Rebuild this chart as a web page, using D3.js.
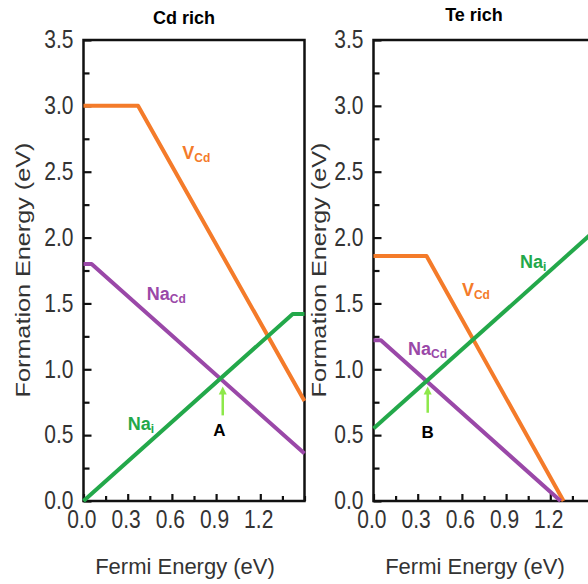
<!DOCTYPE html>
<html><head><meta charset="utf-8">
<script src="https://cdn.jsdelivr.net/npm/d3@7"></script>
<style>
body{margin:0;background:#fff;}
svg text{font-family:"Liberation Sans",Arial,sans-serif;}
.stretch{transform-box:fill-box;transform-origin:center;transform:scaleY(1.2);}
</style>
</head><body>
<svg id="c" width="588" height="584"></svg>
<script>
// ---- data ----
const panelTitles = ["Cd rich", "Te rich"];
const fermiTicks = [0, 0.3, 0.6, 0.9, 1.2];
const fermiMinor = [0.15, 0.45, 0.75, 1.05, 1.35, 1.5];
const energyTicks = [0, 0.5, 1.0, 1.5, 2.0, 2.5, 3.0, 3.5];
const energyMinor = [0.25, 0.75, 1.25, 1.75, 2.25, 2.75, 3.25];
// Cd rich
const cdRich_VCd  = [[0, 3.0], [0.37, 3.0], [1.5, 0.76]];
const cdRich_NaCd = [[0, 1.8], [0.055, 1.8], [1.5, 0.36]];
const cdRich_Nai  = [[0, 0.0], [1.42, 1.42], [1.5, 1.42]];
// Te rich
const teRich_VCd  = [[0, 1.86], [0.36, 1.86], [1.29, 0.0]];
const teRich_NaCd = [[0, 1.22], [0.05, 1.22], [1.27, 0.0]];
const teRich_Nai  = [[0, 0.55], [1.5, 2.05]];
// crossing markers (Fermi level, arrow bottom, arrow tip)
const crossA = [0.945, 0.65, 0.87];
const crossB = [0.368, 0.67, 0.87];

const colors = {VCd: "#f47b2a", NaCd: "#9a48a8", Nai: "#23a84a", arrow: "#8de84a"};

const svg = d3.select("#c");
const yTop = 40, yBot = 501;
const y = d3.scaleLinear().domain([0, 3.5]).range([yBot, yTop]);

function panel(x0, title, series, labels, cross, crossLabel, titleY) {
  const x = d3.scaleLinear().domain([0, 1.5]).range([x0, x0 + 221]);
  const g = svg.append("g");
  // axes
  const xa = g.append("g").attr("transform", `translate(0,${yBot})`)
    .call(d3.axisBottom(x).tickValues(fermiTicks).tickFormat(d3.format(".1f")).tickSize(-7).tickPadding(11));
  const xm = g.append("g").attr("transform", `translate(0,${yBot})`)
    .call(d3.axisBottom(x).tickValues(fermiMinor).tickFormat("").tickSize(-5));
  const ya = g.append("g").attr("transform", `translate(${x0},0)`)
    .call(d3.axisLeft(y).tickValues(energyTicks).tickFormat(d3.format(".1f")).tickSize(-8).tickPadding(10));
  const ym = g.append("g").attr("transform", `translate(${x0},0)`)
    .call(d3.axisLeft(y).tickValues(energyMinor).tickFormat("").tickSize(-6));
  [xa, xm, ya, ym].forEach(a => {
    a.select(".domain").remove();
    a.selectAll("line").attr("stroke", "#111").attr("stroke-width", 2.2);
    a.selectAll("text").attr("fill", "#333").attr("font-size", 21).attr("class", "stretch");
  });
  xa.selectAll("text").attr("dx", "-0.1em");
  ya.selectAll("text").attr("dy", "0.3em");
  // frame
  g.append("rect").attr("x", x(0)).attr("y", y(3.5))
    .attr("width", x(1.5) - x(0)).attr("height", y(0) - y(3.5))
    .attr("fill", "none").attr("stroke", "#111").attr("stroke-width", 2.5);
  // lines
  const line = d3.line().x(d => x(d[0])).y(d => y(d[1]));
  series.forEach(s => {
    g.append("path").attr("d", line(s.data)).attr("fill", "none")
      .attr("stroke", colors[s.key]).attr("stroke-width", 4).attr("stroke-linejoin", "round");
  });
  // labels
  labels.forEach(l => {
    const t = g.append("text").attr("x", x(l.at[0])).attr("y", y(l.at[1]))
      .attr("fill", colors[l.key]).attr("font-weight", "bold").attr("font-size", 18);
    t.append("tspan").text(l.main);
    t.append("tspan").attr("font-size", 12).attr("dy", 3).text(l.sub);
  });
  // arrow
  const ax = x(cross[0]), ab = y(cross[1]), at = y(cross[2]);
  g.append("line").attr("x1", ax).attr("x2", ax).attr("y1", ab).attr("y2", at + 6)
    .attr("stroke", colors.arrow).attr("stroke-width", 2.5);
  g.append("path").attr("d", `M${ax},${at} L${ax - 4},${at + 8} L${ax + 4},${at + 8} Z`).attr("fill", colors.arrow);
  g.append("text").attr("x", x(crossLabel.at[0])).attr("y", y(crossLabel.at[1]))
    .attr("text-anchor", "middle").attr("font-weight", "bold").attr("font-size", 17).attr("fill", "#000").text(crossLabel.text);
  // titles
  const cx = (x(0) + x(1.5)) / 2;
  g.append("text").attr("x", cx - 10).attr("y", titleY).attr("text-anchor", "middle")
    .attr("font-weight", "bold").attr("font-size", 18).attr("fill", "#000").text(title);
  g.append("text").attr("x", cx - 9).attr("y", 574).attr("text-anchor", "middle")
    .attr("font-size", 22).attr("fill", "#333").text("Fermi Energy (eV)");
  return x;
}

panel(83.5, panelTitles[0],
  [{key: "VCd", data: cdRich_VCd}, {key: "NaCd", data: cdRich_NaCd}, {key: "Nai", data: cdRich_Nai}],
  [{key: "VCd", main: "V", sub: "Cd", at: [0.67, 2.60]},
   {key: "NaCd", main: "Na", sub: "Cd", at: [0.43, 1.525]},
   {key: "Nai", main: "Na", sub: "i", at: [0.30, 0.54]}],
  crossA, {text: "A", at: [0.923, 0.49]}, 24);

panel(373.5, panelTitles[1],
  [{key: "VCd", data: teRich_VCd}, {key: "NaCd", data: teRich_NaCd}, {key: "Nai", data: teRich_Nai}],
  [{key: "Nai", main: "Na", sub: "i", at: [0.995, 1.77]},
   {key: "VCd", main: "V", sub: "Cd", at: [0.60, 1.555]},
   {key: "NaCd", main: "Na", sub: "Cd", at: [0.234, 1.11]}],
  crossB, {text: "B", at: [0.367, 0.48]}, 21);

// y-axis titles
[22, 318].forEach(cx => {
  svg.append("text").attr("transform", `translate(${cx + 8},270) scale(1,1.2) rotate(-90)`)
    .attr("text-anchor", "middle").attr("font-size", 21).attr("fill", "#333")
    .text("Formation Energy (eV)");
});
</script>
</body></html>
